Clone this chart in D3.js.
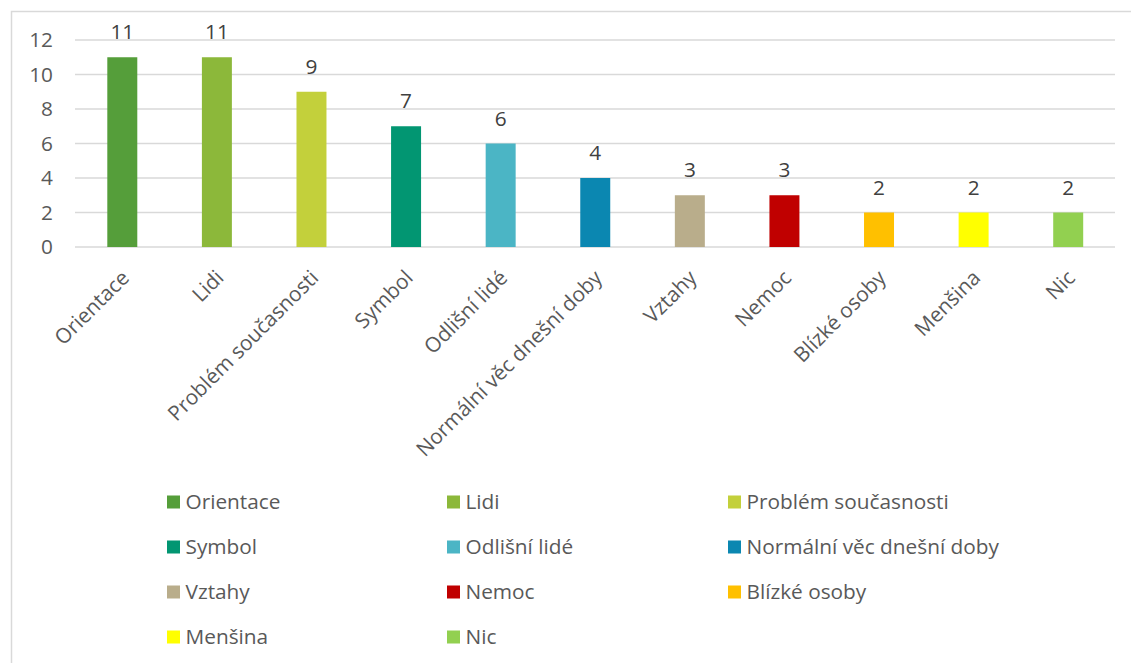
<!DOCTYPE html>
<html>
<head>
<meta charset="utf-8">
<script src="https://cdn.jsdelivr.net/npm/d3@7"></script>
<style>
  html, body { margin: 0; padding: 0; background: #fff; }
  svg { display: block; }
  text { font-family: "Open Sans", sans-serif; }
</style>
</head>
<body>
<svg id="chart" width="1131" height="663"></svg>
<script>
const categories = ["Orientace", "Lidi", "Problém současnosti", "Symbol", "Odlišní lidé",
  "Normální věc dnešní doby", "Vztahy", "Nemoc", "Blízké osoby", "Menšina", "Nic"];
const values = [11, 11, 9, 7, 6, 4, 3, 3, 2, 2, 2];
const colors = ["#559e3a", "#8cb83a", "#c3d03b", "#029672", "#4bb5c5",
  "#0b87b1", "#b9ad8b", "#c00000", "#ffc000", "#ffff00", "#92d050"];
const yTicks = [0, 2, 4, 6, 8, 10, 12];

const FONT = "'Open Sans', sans-serif";
const FS = 20.8;
const svg = d3.select("#chart");

svg.append("path")
  .attr("d", "M11.5,663 L11.5,11.5 L1131,11.5")
  .attr("fill", "none").attr("stroke", "#d9d9d9").attr("stroke-width", 1.5);

const x = d3.scaleBand().domain(categories).range([75, 1115.5]).paddingInner(0.683).paddingOuter(0.3415);
const y = d3.scaleLinear().domain([0, 12]).range([247, 40]);

svg.append("g").selectAll("line").data(yTicks).join("line")
  .attr("x1", 75).attr("x2", 1115)
  .attr("y1", d => y(d)).attr("y2", d => y(d))
  .attr("stroke", "#d9d9d9").attr("stroke-width", 1.5);

const yAxis = d3.axisLeft(y).tickValues(yTicks).tickSize(0).tickPadding(0);
const gy = svg.append("g").attr("transform", "translate(53,0)").call(yAxis);
gy.select(".domain").remove();
gy.selectAll("text").attr("font-size", FS).attr("fill", "#595959")
  .style("font-family", FONT);

svg.append("g").selectAll("rect").data(values).join("rect")
  .attr("x", (d, i) => x(categories[i]))
  .attr("width", x.bandwidth())
  .attr("y", d => y(d))
  .attr("height", d => y(0) - y(d))
  .attr("fill", (d, i) => colors[i]);

svg.append("g").selectAll("text").data(values).join("text")
  .attr("x", (d, i) => x(categories[i]) + x.bandwidth() / 2)
  .attr("y", d => y(d) - 18)
  .attr("text-anchor", "middle")
  .attr("font-size", FS).attr("fill", "#404040")
  .text(d => d);

const xAxis = d3.axisBottom(x).tickSize(0).tickPadding(0);
const gx = svg.append("g").attr("transform", "translate(0,247)").call(xAxis);
gx.select(".domain").remove();
gx.selectAll("text")
  .attr("font-size", FS).attr("fill", "#595959")
  .style("font-family", FONT)
  .attr("text-anchor", "end")
  .attr("dy", "0.35em")
  .attr("y", 0)
  .attr("transform", "translate(3,27) rotate(-45)");

const legCols = [167, 447, 728];
const legRows = [502, 547, 592, 637];
const leg = svg.append("g").selectAll("g").data(categories).join("g")
  .attr("transform", (d, i) => `translate(${legCols[i % 3]},${legRows[Math.floor(i / 3)]})`);
leg.append("rect").attr("x", 0).attr("y", -6.5).attr("width", 13).attr("height", 13)
  .attr("fill", (d, i) => colors[i]);
leg.append("text").attr("x", 18.5).attr("y", 0).attr("dy", "0.35em")
  .attr("font-size", FS).attr("fill", "#595959")
  .text(d => d);
</script>
</body>
</html>
